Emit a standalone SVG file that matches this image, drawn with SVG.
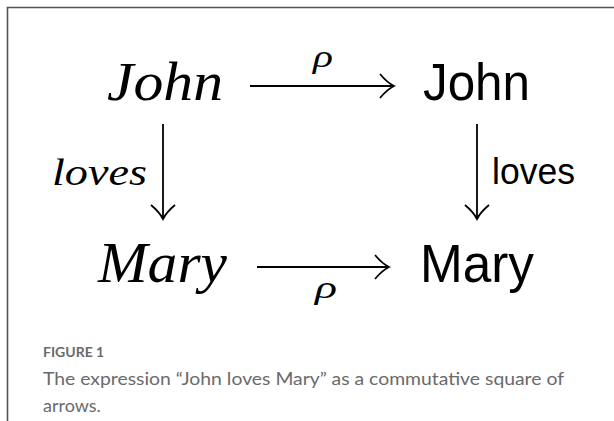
<svg xmlns="http://www.w3.org/2000/svg" width="614" height="421" viewBox="0 0 614 421">
  <style>
    .mi { font-family: "Liberation Serif", "DejaVu Serif", serif; font-style: italic; fill: #000; }
    .sf { font-family: "Liberation Sans", "DejaVu Sans", sans-serif; fill: #000; }
    .edge { fill: none; stroke: #000; stroke-width: 1.8; }
    .cap { font-family: "Lato", "Open Sans", sans-serif; fill: #6a6a6a; }
    .frame { fill: none; stroke: #555; stroke-width: 1.6; }
  </style>
  <defs>
    <marker id="arr" viewBox="-17 -14 19 28" refX="0" refY="0" markerWidth="19" markerHeight="28" orient="auto" markerUnits="userSpaceOnUse">
      <path d="M-14,-12 C-9,-6 -4,-2 0,0 C-4,2 -9,6 -14,12" fill="none" stroke="#000" stroke-width="1.8"/>
    </marker>
  </defs>
  <rect width="614" height="421" fill="#fff"/>
  <path class="frame" d="M7.5,421 V7.5 H614"/>

  <g id="connectors">
    <line class="edge" x1="250" y1="86" x2="394" y2="86" marker-end="url(#arr)"/>
    <line class="edge" x1="257" y1="267" x2="389" y2="267" marker-end="url(#arr)"/>
    <line class="edge" x1="163" y1="124" x2="163" y2="219" marker-end="url(#arr)"/>
    <line class="edge" x1="477" y1="124" x2="477" y2="219" marker-end="url(#arr)"/>
    <text class="mi" x="313" y="67" font-size="32" textLength="20" lengthAdjust="spacingAndGlyphs">ρ</text>
    <text class="mi" x="315" y="298" font-size="32" textLength="22" lengthAdjust="spacingAndGlyphs">ρ</text>
    <text class="mi" x="52" y="185" font-size="38" textLength="95" lengthAdjust="spacingAndGlyphs">loves</text>
    <text class="sf" x="492" y="184" font-size="36" textLength="83" lengthAdjust="spacingAndGlyphs">loves</text>
  </g>

  <g id="node-john-italic">
    <text class="mi" x="107" y="100" font-size="55" textLength="116" lengthAdjust="spacingAndGlyphs">John</text>
  </g>
  <g id="node-john-sans">
    <text class="sf" x="423" y="100" font-size="52" textLength="107" lengthAdjust="spacingAndGlyphs">John</text>
  </g>
  <g id="node-mary-italic">
    <text class="mi" x="98" y="282" font-size="57" textLength="129" lengthAdjust="spacingAndGlyphs">Mary</text>
  </g>
  <g id="node-mary-sans">
    <text class="sf" x="420" y="282" font-size="53" textLength="114" lengthAdjust="spacingAndGlyphs">Mary</text>
  </g>

  <g id="caption">
    <text class="cap" x="43" y="357" font-size="14" font-weight="bold">FIGURE 1</text>
    <text class="cap" x="43" y="385" font-size="18" textLength="521" lengthAdjust="spacingAndGlyphs">The expression “John loves Mary” as a commutative square of</text>
    <text class="cap" x="43" y="412" font-size="18">arrows.</text>
  </g>
</svg>
